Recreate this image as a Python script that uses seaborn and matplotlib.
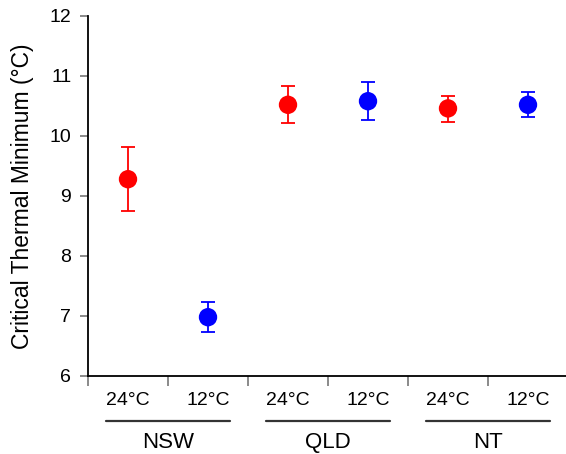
import matplotlib
matplotlib.use("Agg")
import matplotlib.pyplot as plt
import seaborn as sns
import pandas as pd
import numpy as np

# data
regions = ["NSW", "NSW", "QLD", "QLD", "NT", "NT"]
temps = ["24°C", "12°C", "24°C", "12°C", "24°C", "12°C"]
means = [9.28, 6.98, 10.52, 10.58, 10.46, 10.52]
err_low = [8.75, 6.73, 10.21, 10.26, 10.24, 10.31]
err_high = [9.82, 7.23, 10.83, 10.90, 10.66, 10.73]
group_names = ["NSW", "QLD", "NT"]
y_ticks = [6, 7, 8, 9, 10, 11, 12]

sns.set_style("ticks")
plt.rcParams["font.family"] = ["Liberation Sans", "DejaVu Sans"]
plt.rcParams["text.color"] = "black"
plt.rcParams["axes.labelcolor"] = "black"
plt.rcParams["xtick.labelcolor"] = "black"
plt.rcParams["ytick.labelcolor"] = "black"

df = pd.DataFrame({"pos": np.arange(len(means)), "region": regions,
                   "temp": temps, "mean": means,
                   "lo": err_low, "hi": err_high})

palette = {"24°C": "#ff0000", "12°C": "#0000ff"}

fig = plt.figure(figsize=(5.66, 4.54), dpi=100)
ax = fig.add_axes([88 / 566, 1 - 376 / 454, 480 / 566, 360 / 454])

for _, r in df.iterrows():
    ax.errorbar(r["pos"], r["mean"],
                yerr=[[r["mean"] - r["lo"]], [r["hi"] - r["mean"]]],
                fmt="none", ecolor=palette[r["temp"]], elinewidth=1.3,
                capsize=4.7, capthick=1.3, zorder=2)

sns.scatterplot(data=df, x="pos", y="mean", hue="temp", palette=palette,
                s=175, edgecolor="none", legend=False, ax=ax, zorder=3)

ax.set_xlim(-0.5, 5.5)
ax.set_ylim(6, 12)
ax.set_yticks(y_ticks)
ax.set_yticklabels([str(t) for t in y_ticks])

ax.set_xticks(np.arange(-0.5, 5.0, 1.0))
ax.set_xticklabels([])
ax.set_xticks(df["pos"], minor=True)
ax.set_xticklabels(temps, minor=True)
ax.tick_params(axis="x", which="major", length=7, width=1.2, color="#777777")
ax.tick_params(axis="x", which="minor", length=0, pad=11.5, labelsize=14,
               labelcolor="black")
ax.tick_params(axis="y", length=6, width=1.2, color="#777777", pad=6,
               labelsize=14, labelcolor="black")

for side in ["top", "right"]:
    ax.spines[side].set_visible(False)
for side in ["left", "bottom"]:
    ax.spines[side].set_linewidth(1.3)
    ax.spines[side].set_color("black")

ax.set_xlabel("")
ax.set_ylabel("Critical Thermal Minimum (°C)", fontsize=16.5, labelpad=11,
              color="black")

trans = ax.get_xaxis_transform()
for i, g in enumerate(group_names):
    x0, x1 = 2 * i - 0.275, 2 * i + 1 + 0.275
    ax.plot([x0, x1], [-0.1244, -0.1244], transform=trans, color="#333333",
            lw=1.6, clip_on=False)
    ax.text(2 * i + 0.5, -0.186, g, transform=trans, ha="center", va="center",
            fontsize=16, color="black")

fig.savefig("out.png", dpi=100)
